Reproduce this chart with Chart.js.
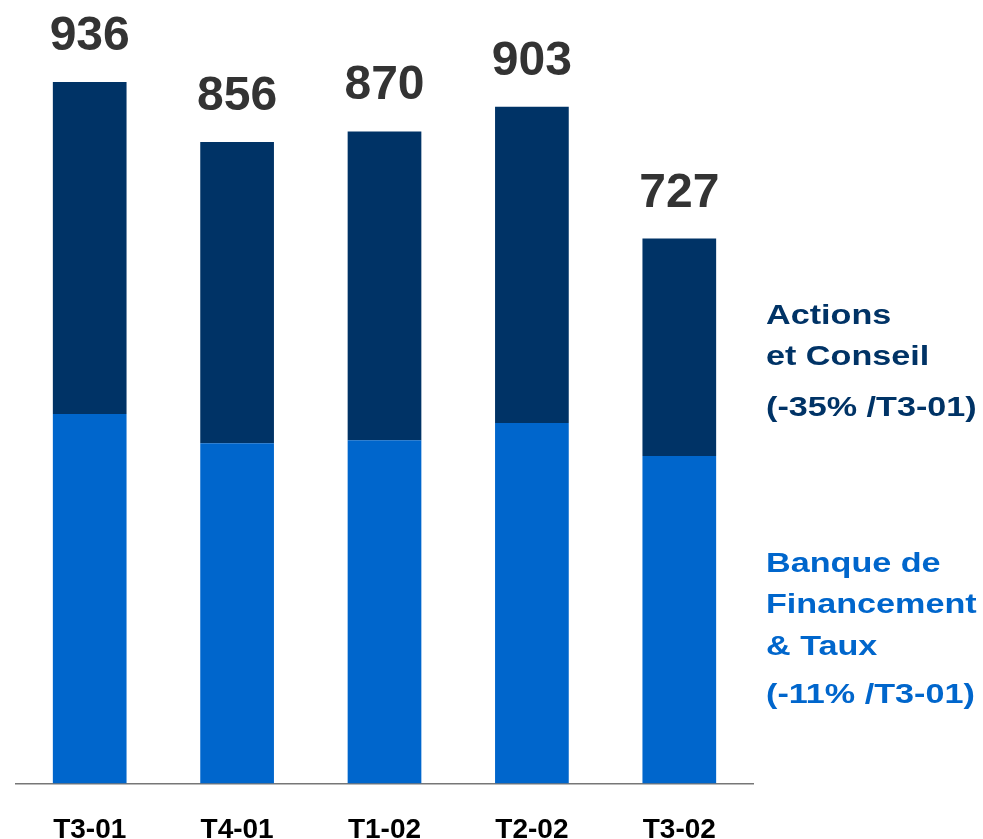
<!DOCTYPE html>
<html>
<head>
<meta charset="utf-8">
<script src="https://cdn.jsdelivr.net/npm/chart.js@4.4.1/dist/chart.umd.min.js"></script>
<style>
  html, body { margin: 0; padding: 0; background: #fff; }
  #wrap { width: 983px; height: 839px; }
</style>
</head>
<body>
<div id="wrap"><canvas id="chart1" width="983" height="839"></canvas></div>
<script>
const quarters = ["T3-01", "T4-01", "T1-02", "T2-02", "T3-02"];
const banqueFinancement = [493, 454, 458, 481, 437];
const actionsConseil = [443, 402, 412, 422, 290];
const totals = [936, 856, 870, 903, 727];

const navy = "#003366";
const blue = "#0066CC";
const FONT = "Arial, 'Liberation Sans', sans-serif";

// value above each stack
const totalsPlugin = {
  id: "totals",
  afterDatasetsDraw(chart) {
    const ctx = chart.ctx;
    const meta = chart.getDatasetMeta(1);
    ctx.save();
    ctx.font = "bold 48px " + FONT;
    ctx.fillStyle = "#333333";
    ctx.textAlign = "center";
    ctx.textBaseline = "alphabetic";
    meta.data.forEach((bar, i) => {
      ctx.fillText(String(totals[i]), bar.x, bar.y - 32);
    });
    ctx.restore();
  },
};

// series names on the right
const sideLabels = {
  id: "sideLabels",
  afterDraw(chart) {
    const ctx = chart.ctx;
    const x = chart.chartArea.right + 13;
    const lines = [
      { t: "Actions", y: 324, c: navy },
      { t: "et Conseil", y: 365, c: navy },
      { t: "(-35% /T3-01)", y: 416, c: navy },
      { t: "Banque de", y: 572, c: blue },
      { t: "Financement", y: 613, c: blue },
      { t: "& Taux", y: 655, c: blue },
      { t: "(-11% /T3-01)", y: 703, c: blue },
    ];
    ctx.save();
    ctx.font = "bold 28px " + FONT;
    ctx.textAlign = "left";
    ctx.textBaseline = "alphabetic";
    lines.forEach((l) => {
      ctx.save();
      ctx.translate(x, l.y);
      ctx.scale(1.22, 1);
      ctx.fillStyle = l.c;
      ctx.fillText(l.t, 0, 0);
      ctx.restore();
    });
    ctx.restore();
  },
};

new Chart(document.getElementById("chart1").getContext("2d"), {
  type: "bar",
  data: {
    labels: quarters,
    datasets: [
      {
        label: "Banque de Financement & Taux",
        data: banqueFinancement,
        backgroundColor: blue,
        borderWidth: 0,
      },
      {
        label: "Actions et Conseil",
        data: actionsConseil,
        backgroundColor: navy,
        borderWidth: 0,
      },
    ],
  },
  options: {
    responsive: false,
    animation: false,
    layout: { padding: { left: 16, right: 230, top: 34, bottom: -38 } },
    datasets: { bar: { categoryPercentage: 1, barPercentage: 0.5 } },
    scales: {
      x: {
        stacked: true,
        grid: { display: false, drawTicks: false },
        border: { display: true, color: "#777777", width: 1.5 },
        ticks: {
          padding: 30,
          color: "#000000",
          font: { family: FONT, size: 28, weight: "bold" },
        },
      },
      y: {
        stacked: true,
        display: false,
        min: 0,
        max: 1000,
      },
    },
    plugins: {
      legend: { display: false },
      tooltip: { enabled: false },
    },
  },
  plugins: [totalsPlugin, sideLabels],
});
</script>
</body>
</html>
